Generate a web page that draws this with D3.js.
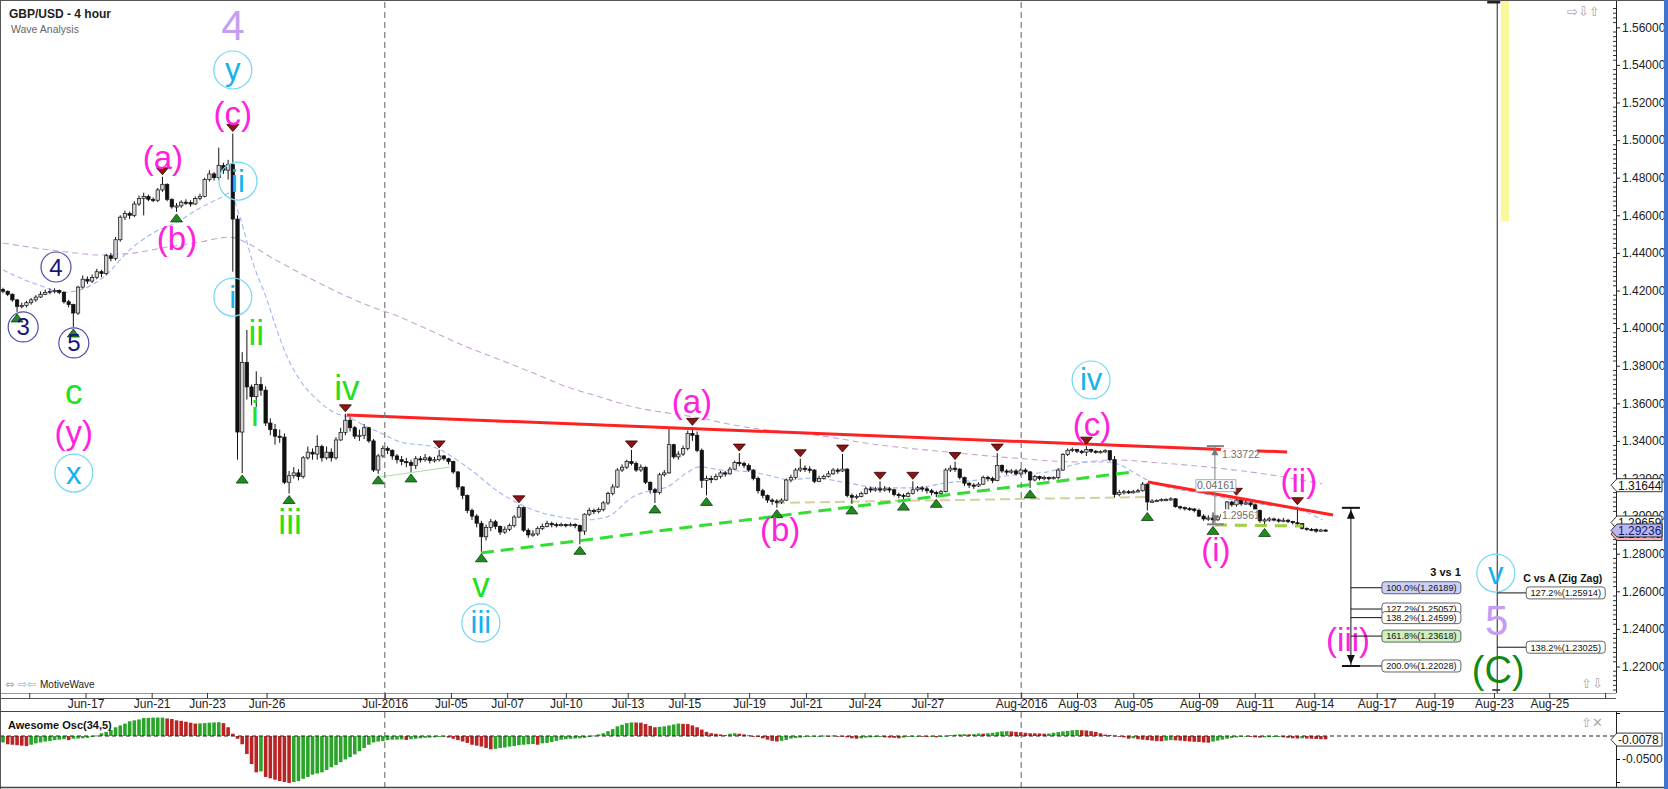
<!DOCTYPE html>
<html>
<head>
<meta charset="utf-8">
<title>GBP/USD - 4 hour</title>
<script src="https://cdn.jsdelivr.net/npm/d3@7"></script>
<style>
html,body{margin:0;padding:0;background:#fff;}
svg{display:block;font-family:"Liberation Sans",Arial,Helvetica,sans-serif;}
</style>
</head>
<body>
<svg id="chart" width="1668" height="789"></svg>
<script>
// ---------- DATA ----------
const firstOpen = 1.4205;
const closes = [
1.4196,1.4180,1.4150,1.4115,1.4120,1.4135,1.4150,1.4165,1.4180,1.4190,
1.4195,1.4200,1.4190,1.4140,1.4125,1.4080,1.4218,1.4260,1.4250,1.4270,
1.4300,1.4290,1.4385,1.4370,1.4470,1.4590,1.4610,1.4600,1.4660,1.4690,
1.4700,1.4685,1.4680,1.4735,1.4765,1.4685,1.4645,1.4650,1.4670,1.4668,
1.4660,1.4690,1.4700,1.4790,1.4820,1.4800,1.4865,1.4840,1.4870,1.4580,
1.3447,1.3818,1.3687,1.3635,1.3700,1.3670,1.3495,1.3460,1.3425,1.3420,
1.3180,1.3215,1.3230,1.3210,1.3310,1.3340,1.3330,1.3370,1.3310,1.3340,
1.3310,1.3405,1.3445,1.3510,1.3470,1.3425,1.3430,1.3470,1.3400,1.3245,
1.3320,1.3360,1.3350,1.3320,1.3300,1.3290,1.3285,1.3270,1.3305,1.3300,
1.3310,1.3295,1.3300,1.3320,1.3305,1.3290,1.3235,1.3155,1.3110,1.3030,
1.3000,1.2962,1.2890,1.2940,1.2970,1.2945,1.2915,1.2930,1.2950,1.2995,
1.3045,1.2925,1.2900,1.2905,1.2935,1.2945,1.2960,1.2955,1.2950,1.2955,
1.2950,1.2955,1.2950,1.2920,1.3010,1.3030,1.3025,1.3035,1.3070,1.3120,
1.3155,1.3245,1.3260,1.3290,1.3280,1.3245,1.3260,1.3180,1.3140,1.3125,
1.3220,1.3230,1.3380,1.3315,1.3330,1.3360,1.3440,1.3430,1.3350,1.3190,
1.3200,1.3195,1.3210,1.3230,1.3225,1.3250,1.3285,1.3280,1.3270,1.3245,
1.3200,1.3135,1.3110,1.3085,1.3080,1.3075,1.3085,1.3192,1.3205,1.3245,
1.3255,1.3250,1.3245,1.3185,1.3200,1.3210,1.3225,1.3245,1.3240,1.3250,
1.3110,1.3100,1.3105,1.3120,1.3145,1.3140,1.3145,1.3140,1.3145,1.3140,
1.3115,1.3110,1.3105,1.3120,1.3140,1.3150,1.3145,1.3135,1.3125,1.3120,
1.3130,1.3245,1.3255,1.3250,1.3205,1.3175,1.3165,1.3160,1.3170,1.3205,
1.3200,1.3190,1.3270,1.3240,1.3235,1.3240,1.3225,1.3245,1.3235,1.3192,
1.3210,1.3200,1.3205,1.3200,1.3205,1.3245,1.3327,1.3350,1.3355,1.3345,
1.3340,1.3355,1.3345,1.3340,1.3343,1.3348,1.3300,1.3115,1.3125,1.3130,
1.3128,1.3130,1.3135,1.3170,1.3075,1.3080,1.3083,1.3088,1.3088,1.3092,
1.3050,1.3045,1.3040,1.3038,1.3030,1.3000,1.2985,1.2990,1.2980,1.2995,
1.3010,1.3075,1.3060,1.3085,1.3065,1.3070,1.3060,1.3030,1.2975,1.2980,
1.2985,1.2980,1.2975,1.2978,1.2972,1.2965,1.2960,1.2935,1.2930,1.2928,
1.2920,1.2926,1.2924];
const highs = [
1.4215,1.4200,1.4185,1.4155,1.4135,1.4145,1.4160,1.4175,1.4195,1.4205,
1.4210,1.4212,1.4205,1.4195,1.4150,1.4130,1.4225,1.4280,1.4275,1.4285,
1.4315,1.4310,1.4395,1.4400,1.4485,1.4600,1.4625,1.4620,1.4675,1.4705,
1.4720,1.4710,1.4695,1.4745,1.4805,1.4770,1.4690,1.4665,1.4680,1.4685,
1.4680,1.4700,1.4715,1.4800,1.4840,1.4830,1.4960,1.4880,1.4895,1.5035,
1.4600,1.3872,1.3990,1.3700,1.3770,1.3740,1.3690,1.3520,1.3490,1.3460,
1.3440,1.3240,1.3260,1.3250,1.3320,1.3370,1.3360,1.3430,1.3380,1.3370,
1.3360,1.3420,1.3470,1.3544,1.3530,1.3480,1.3460,1.3490,1.3475,1.3410,
1.3330,1.3375,1.3370,1.3355,1.3330,1.3320,1.3310,1.3300,1.3320,1.3320,
1.3330,1.3320,1.3315,1.3352,1.3325,1.3310,1.3295,1.3240,1.3160,1.3115,
1.3040,1.3010,1.2975,1.2955,1.2985,1.2980,1.2950,1.2945,1.2960,1.3005,
1.3060,1.3050,1.2935,1.2925,1.2945,1.2960,1.2975,1.2970,1.2965,1.2965,
1.2960,1.2965,1.2962,1.2955,1.3015,1.3045,1.3040,1.3045,1.3080,1.3130,
1.3170,1.3255,1.3275,1.3300,1.3352,1.3290,1.3275,1.3265,1.3185,1.3150,
1.3230,1.3245,1.3475,1.3385,1.3345,1.3375,1.3455,1.3472,1.3450,1.3360,
1.3215,1.3215,1.3225,1.3240,1.3240,1.3262,1.3295,1.3335,1.3290,1.3280,
1.3250,1.3210,1.3145,1.3115,1.3095,1.3090,1.3095,1.3200,1.3220,1.3255,
1.3305,1.3270,1.3265,1.3250,1.3215,1.3220,1.3240,1.3255,1.3255,1.3330,
1.3255,1.3120,1.3115,1.3130,1.3155,1.3155,1.3155,1.3185,1.3160,1.3155,
1.3145,1.3125,1.3120,1.3130,1.3185,1.3160,1.3160,1.3155,1.3145,1.3135,
1.3140,1.3255,1.3270,1.3290,1.3255,1.3210,1.3180,1.3175,1.3180,1.3215,
1.3215,1.3210,1.3335,1.3275,1.3250,1.3250,1.3250,1.3255,1.3255,1.3240,
1.3220,1.3215,1.3215,1.3210,1.3212,1.3255,1.3335,1.3360,1.3365,1.3358,
1.3352,1.3372,1.3358,1.3352,1.3350,1.3356,1.3350,1.3320,1.3140,1.3140,
1.3138,1.3140,1.3145,1.3181,1.3175,1.3090,1.3090,1.3095,1.3095,1.3100,
1.3095,1.3055,1.3050,1.3048,1.3042,1.3040,1.3010,1.3005,1.3020,1.3005,
1.3020,1.3080,1.3080,1.3100,1.3090,1.3085,1.3075,1.3065,1.3035,1.2990,
1.2995,1.2992,1.2988,1.2990,1.2985,1.2975,1.3050,1.2962,1.2940,1.2936,
1.2935,1.2932,1.2930];
const lows = [
1.4185,1.4170,1.4140,1.4086,1.4105,1.4110,1.4125,1.4140,1.4160,1.4175,
1.4180,1.4185,1.4180,1.4130,1.4110,1.4006,1.4070,1.4210,1.4235,1.4240,
1.4260,1.4270,1.4280,1.4355,1.4360,1.4460,1.4575,1.4580,1.4590,1.4650,
1.4600,1.4675,1.4670,1.4670,1.4725,1.4675,1.4635,1.4618,1.4640,1.4655,
1.4645,1.4655,1.4680,1.4695,1.4780,1.4785,1.4790,1.4820,1.4790,1.4300,
1.3300,1.3229,1.3620,1.3590,1.3580,1.3640,1.3480,1.3430,1.3380,1.3390,
1.3170,1.3120,1.3200,1.3190,1.3200,1.3300,1.3300,1.3300,1.3290,1.3300,
1.3290,1.3300,1.3400,1.3430,1.3450,1.3410,1.3400,1.3410,1.3390,1.3235,
1.3225,1.3310,1.3330,1.3300,1.3280,1.3270,1.3260,1.3235,1.3250,1.3285,
1.3290,1.3280,1.3285,1.3290,1.3295,1.3275,1.3225,1.3140,1.3090,1.3015,
1.2980,1.2940,1.2810,1.2870,1.2920,1.2930,1.2900,1.2905,1.2920,1.2940,
1.2990,1.2915,1.2885,1.2890,1.2895,1.2925,1.2940,1.2940,1.2940,1.2945,
1.2940,1.2945,1.2935,1.2850,1.2900,1.3000,1.3010,1.3015,1.3025,1.3060,
1.3110,1.3150,1.3235,1.3250,1.3270,1.3235,1.3235,1.3170,1.3120,1.3070,
1.3115,1.3210,1.3225,1.3305,1.3300,1.3320,1.3350,1.3400,1.3340,1.3150,
1.3110,1.3175,1.3190,1.3200,1.3210,1.3220,1.3245,1.3265,1.3255,1.3235,
1.3190,1.3120,1.3095,1.3070,1.3060,1.3045,1.3065,1.3080,1.3180,1.3195,
1.3235,1.3235,1.3230,1.3175,1.3180,1.3195,1.3205,1.3220,1.3225,1.3235,
1.3100,1.3065,1.3090,1.3100,1.3115,1.3125,1.3130,1.3125,1.3130,1.3125,
1.3105,1.3095,1.3085,1.3100,1.3115,1.3130,1.3130,1.3120,1.3110,1.3100,
1.3110,1.3125,1.3235,1.3235,1.3195,1.3160,1.3150,1.3145,1.3155,1.3165,
1.3185,1.3175,1.3185,1.3230,1.3220,1.3225,1.3215,1.3215,1.3225,1.3150,
1.3185,1.3190,1.3190,1.3190,1.3195,1.3195,1.3240,1.3320,1.3340,1.3335,
1.3330,1.3320,1.3335,1.3332,1.3333,1.3336,1.3292,1.3100,1.3105,1.3115,
1.3118,1.3120,1.3125,1.3130,1.3030,1.3070,1.3075,1.3078,1.3080,1.3082,
1.3045,1.3035,1.3030,1.3028,1.3020,1.2995,1.2975,1.2975,1.2956,1.2975,
1.2985,1.3005,1.3050,1.3050,1.3055,1.3060,1.3050,1.3025,1.2965,1.2945,
1.2970,1.2972,1.2965,1.2968,1.2962,1.2955,1.2950,1.2928,1.2922,1.2920,
1.2912,1.2918,1.2918];

// Awesome Oscillator (34,5), thousandths
const aoValues = [
-14,-18,-19,-20,-21,-22,-19,-16,-14,-12,-11,-9,-8,-7,-9,-6,-5.5,
-5,-4,-2,1,6,9,13,19,23,27,32,34,36,39,39.5,40,40,
40,38,37,34,33,31,29,27,27.5,28,29,29.5,30,28,19,5,-6,
-18,-39,-61,-79,-77,-89,-92,-95,-98,-100,-102,-100,-98,-93,-89,-84,-81.5,
-79,-74,-68,-63,-57,-51,-46,-40,-33,-26,-19,-14,-12,-11,-9,-8,-7.8,
-7.5,-8.5,-7,-6,-5,-4,-3.5,-3,-2,-1.5,-3.5,-6,-9,-12,-15,-19,-21,
-23,-26,-29,-28,-26,-25,-23,-22,-20,-19,-18,-17.5,-19,-16,-15,-13,-10.5,
-8,-7,-6,-5.5,-5,-4,-2,1,3.5,6,10.5,15,21,24.5,28,29.5,29.3,
29,26,22,19,20,21,23,25,27,26.5,26,23,19,14,9,6,4.8,
3.5,2,5,6,5,3.5,1.5,0,-2,-5,-8,-10.5,-12,-10.5,-8.5,-5.5,-4.5,
-3.5,-2,-1.5,-1,0,0.7,0,1,0,-1,-3,-5,-6,-5,-3.5,-3,-2.5,
-2,-3,-3.5,-4,-5,-3.5,-2,-1.5,-1,-1.5,-2,-1.5,-3,-1,0.5,2,2.8,
3.5,4,3.5,4,5.5,5,6,7,8.5,10,10.5,10,9,8,7,6,5.8,
5.5,5,5.5,7,8.5,10,11,12.5,13,12.5,12,10.5,9,6,3,2,1,
0,-3,-6,-5,-7,-8,-9,-10,-11,-11.5,-10,-9,-9.5,-10,-11,-12,-12.5,
-13,-14,-14.5,-12,-10,-8,-6,-4,-3,-2,-1.5,-2,-3,-3.5,-3,-2.5,-2.2,
-2,-3,-4,-5,-5.5,-5,-5.5,-6,-6.5,-7,-7.2];

const tickBars   = [5.6,17.6,31.7,43.5,56.2,81.4,95.5,107.5,120.0,133.2,145.3,159.1,171.2,183.7,197.1,217.1,229.0,241.0,255.0,266.9,279.6,292.9,305.2,317.9,329.7,341.6];
const tickLabels = ["","Jun-17","Jun-21","Jun-23","Jun-26","Jul-2016","Jul-05","Jul-07","Jul-10","Jul-13","Jul-15","Jul-19","Jul-21","Jul-24","Jul-27","Aug-2016","Aug-03","Aug-05","Aug-09","Aug-11","Aug-14","Aug-17","Aug-19","Aug-23","Aug-25",""];
const monthBars  = [81.4, 217.1];
const priceTicks = [1.22,1.24,1.26,1.28,1.30,1.32,1.34,1.36,1.38,1.40,1.42,1.44,1.46,1.48,1.50,1.52,1.54,1.56];
const oscTicks   = [0.05,0,-0.05,-0.1];

const maFast = [[0,1.4309],[6.4,1.4240],[13.6,1.4192],[20.7,1.4256],[27.7,1.4431],[32.0,1.4506],[37.1,1.4564],[42.0,1.4639],[46.3,1.4692],[48.4,1.4718],[50.5,1.4591],[53.3,1.4346],[56.3,1.4150],[58.4,1.3990],[60.6,1.3847],[63.3,1.3724],[67.0,1.3618],[70.4,1.3554],[74.0,1.3522],[77.6,1.3474],[81.0,1.3437],[84.6,1.3395],[91.7,1.3368],[98.9,1.3262],[106.0,1.3123],[113.0,1.3033],[120.3,1.2990],[124.5,1.2980],[128.8,1.2996],[134.3,1.3102],[138.6,1.3139],[141.6,1.3155],[145.8,1.3230],[148.6,1.3262],[152.9,1.3246],[159.3,1.3235],[162.9,1.3219],[167.8,1.3193],[172.7,1.3203],[180.0,1.3177],[187.0,1.3150],[194.0,1.3150],[201.3,1.3177],[208.3,1.3193],[215.4,1.3219],[222.6,1.3235],[228.1,1.3272],[231.8,1.3288],[235.4,1.3288],[238.2,1.3272],[240.9,1.3235],[243.9,1.3193],[248.2,1.3155],[255.2,1.3123],[262.3,1.3086],[269.5,1.3059],[276.5,1.3033],[281.3,1.2980]];
const maSlow = [[0,1.4452],[13.6,1.4405],[20.7,1.4389],[27.7,1.4399],[35.0,1.4431],[42.0,1.4458],[48.4,1.4484],[52.0,1.4453],[56.3,1.4389],[63.3,1.4293],[70.4,1.4203],[77.6,1.4123],[84.6,1.4059],[91.7,1.3980],[98.9,1.3900],[106.0,1.3831],[113.0,1.3762],[120.3,1.3687],[127.3,1.3634],[134.3,1.3581],[141.6,1.3549],[148.6,1.3522],[155.7,1.3485],[162.9,1.3458],[169.9,1.3442],[187.0,1.3378],[201.3,1.3341],[215.4,1.3309],[229.6,1.3288],[236.7,1.3299],[246.7,1.3283],[262.3,1.3246],[272.9,1.3209],[281.3,1.3171]];

const trendLines = [
  {a:[80.4,1.3208], b:[95.3,1.3261], color:"#a8dca8", w:1,   dash:null},
  {a:[164.6,1.3070],b:[244.6,1.3102],color:"#d6cfa0", w:2,   dash:"10,5"},
  {a:[101.9,1.2804],b:[240.9,1.3235],color:"#33dd33", w:3,   dash:"13,7"},
  {a:[258.4,1.2953],b:[277.2,1.2947],color:"#9fd040", w:3,   dash:"12,8"},
  {a:[73.3,1.3538], b:[273.8,1.3341],color:"#ff2222", w:3,   dash:null},
  {a:[244.1,1.3181],b:[283.6,1.3006],color:"#ff2222", w:3,   dash:null}
];

const peakBars   = [34,49,73,93,110,134,147,157,170,179,187,194,203,212,231,263,276];
const troughBars = [3,15,37,51,61,80,87,102,123,139,150,165,181,192,199,219,244,258,269];

const waveLabels = [
["4",49.0,1.5607,"lil"],["y",49.0,1.5373,"cyc"],["(c)",49.0,1.5139,"mag"],
["(a)",34.1,1.4910,"mag"],["ii",50.1,1.4782,"cyc"],["(b)",37.1,1.4479,"mag"],
["i",49.0,1.4165,"cyc"],["4",11.3,1.4325,"nav"],["3",4.3,1.4006,"nav"],
["5",15.1,1.3921,"nav"],["c",15.1,1.3661,"grn"],["(y)",15.1,1.3447,"mag"],
["x",15.1,1.3229,"cyc"],["ii",54.0,1.3974,"grn"],["i",53.7,1.3548,"grn"],
["iii",61.2,1.2969,"grn"],["iv",73.3,1.3682,"grn"],["v",101.9,1.2634,"grn"],
["iii",101.9,1.2432,"cyc"],["(a)",146.9,1.3608,"mag"],["(b)",165.7,1.2927,"mag"],
["iv",232.0,1.3724,"cyc"],["(c)",232.2,1.3485,"mag"],["(i)",258.6,1.2820,"mag"],
["(ii)",276.3,1.3192,"mag"],["(iii)",286.8,1.2342,"mag"],["v",318.3,1.2697,"cyc"],
["5",318.5,1.2447,"lil"],["(C)",318.8,1.2181,"dgr"]];

const measBar = 258.4, measHigh = 1.33722, measLow = 1.29561;
const fib1Bar = 287.4, fib1Top = 1.3044;
const fib1Levels = [1.26189,1.25057,1.24599,1.23618,1.22028];
const fib1Names  = ["100.0%","127.2%","138.2%","161.8%","200.0%"];
const fib1Fills  = ["#c9d1fb","#ffffff","#ffffff","#cdf1c3","#ffffff"];
const fib2Bar = 318.6;
const fib2Levels = [1.25914,1.23025];
const fib2Names  = ["127.2%","138.2%"];
const yellowBar = [319.4, 321.1, 1.4568];
const currentLabels = [[1.31644,"#ffffff","#111"],[1.29659,"#ffffff","#111"],[1.29046,"#f3b2ae","#111"],[1.29236,"#b9b9f2","#14146a"]];
const aoCurrent = -0.0078;

// ---------- LAYOUT ----------
const svg = d3.select("#chart");
const PR = 1616, PB = 693, OT = 712, OB = 788;
const x  = d3.scaleLinear().domain([0, 341.6]).range([3, 1605.1]);
const y  = d3.scaleLinear().domain([1.22, 1.56]).range([666.5, 27.3]);
const yo = d3.scaleLinear().domain([-0.1, 0.05]).range([782, 713]);

const defs = svg.append("defs");
defs.append("clipPath").attr("id","pc").append("rect").attr("x",1).attr("y",1).attr("width",PR-1).attr("height",PB-1);
defs.append("clipPath").attr("id","oc").append("rect").attr("x",1).attr("y",OT+1).attr("width",PR-1).attr("height",OB-OT-1);

svg.append("rect").attr("width",1668).attr("height",789).attr("fill","#fff");

const P = svg.append("g").attr("clip-path","url(#pc)");

// yellow box
P.append("rect").attr("x",x(yellowBar[0])).attr("width",x(yellowBar[1])-x(yellowBar[0]))
 .attr("y",0).attr("height",y(yellowBar[2])).attr("fill","#f9f99c");

// month separators
svg.append("g").selectAll("line").data(monthBars).join("line")
 .attr("x1",d=>x(d)).attr("x2",d=>x(d)).attr("y1",2).attr("y2",OB)
 .attr("stroke","#7a7a7a").attr("stroke-width",1.2).attr("stroke-dasharray","6,4");

// moving averages
const maLine = d3.line().x(d=>x(d[0])).y(d=>y(d[1])).curve(d3.curveMonotoneX);
P.append("path").attr("d",maLine(maSlow)).attr("fill","none").attr("stroke","#c9a2d4").attr("stroke-width",1.1).attr("stroke-dasharray","6,4");
P.append("path").attr("d",maLine(maFast)).attr("fill","none").attr("stroke","#9fb6f2").attr("stroke-width",1.1).attr("stroke-dasharray","5,3");

// thin/tan lines first
const tl = d => d3.line().x(p=>x(p[0])).y(p=>y(p[1]))([d.a,d.b]);
P.append("g").selectAll("path").data(trendLines.slice(0,2)).join("path")
 .attr("d",tl).attr("fill","none").attr("stroke",d=>d.color).attr("stroke-width",d=>d.w)
 .attr("stroke-dasharray",d=>d.dash);

// candles
const bars = closes.map((c,i)=>({i, o: i ? closes[i-1] : firstOpen, c, h: highs[i], l: lows[i]}));
const CG = P.append("g");
CG.selectAll("line").data(bars).join("line")
 .attr("x1",d=>x(d.i)).attr("x2",d=>x(d.i))
 .attr("y1",d=>y(Math.max(d.h,d.o,d.c))).attr("y2",d=>y(Math.min(d.l,d.o,d.c)))
 .attr("stroke","#111").attr("stroke-width",1);
CG.selectAll("rect").data(bars).join("rect")
 .attr("x",d=>x(d.i)-1.7).attr("width",3.4)
 .attr("y",d=>y(Math.max(d.o,d.c)))
 .attr("height",d=>Math.max(1.2, y(Math.min(d.o,d.c))-y(Math.max(d.o,d.c))))
 .attr("fill",d=>d.c>=d.o?"#d2d2d2":"#111").attr("stroke","#111").attr("stroke-width",0.7);

// trend lines
P.append("g").selectAll("path").data(trendLines.slice(2)).join("path")
 .attr("d",tl).attr("fill","none").attr("stroke",d=>d.color).attr("stroke-width",d=>d.w)
 .attr("stroke-dasharray",d=>d.dash);

// swing markers
P.append("g").selectAll("path").data(peakBars).join("path")
 .attr("d",b=>{const cx=x(b), ay=y(highs[b])-2; return `M${cx-6},${ay-7}L${cx+6},${ay-7}L${cx},${ay}Z`;})
 .attr("fill","#8c1414").attr("stroke","#3a0000").attr("stroke-width",0.8);
P.append("g").selectAll("path").data(troughBars).join("path")
 .attr("d",b=>{const cx=x(b), ay=y(lows[b])+2; return `M${cx-6},${ay+8}L${cx+6},${ay+8}L${cx},${ay}Z`;})
 .attr("fill","#1f8c1f").attr("stroke","#0b3d0b").attr("stroke-width",0.8);

// measurement tool
const mx = x(measBar), mHy = y(measHigh), mLy = y(measLow);
const M = P.append("g");
M.append("line").attr("x1",mx).attr("x2",mx).attr("y1",mHy).attr("y2",mLy).attr("stroke","#808080").attr("stroke-width",1);
M.append("line").attr("x1",mx-8).attr("x2",mx+9).attr("y1",mHy).attr("y2",mHy).attr("stroke","#808080").attr("stroke-width",2);
M.append("line").attr("x1",mx-8).attr("x2",mx+9).attr("y1",mLy).attr("y2",mLy).attr("stroke","#808080").attr("stroke-width",2);
M.append("path").attr("d",`M${mx-3.5},${mHy+9}L${mx+3.5},${mHy+9}L${mx},${mHy+2}Z`).attr("fill","#777");
M.append("path").attr("d",`M${mx-3.5},${mLy-9}L${mx+3.5},${mLy-9}L${mx},${mLy-2}Z`).attr("fill","#777");
[[measHigh, mHy+8],[measLow, mLy-9]].forEach(([v,yy])=>{
  M.append("rect").attr("x",mx+6).attr("y",yy-6).attr("width",36).attr("height",12).attr("fill","#fff");
  M.append("text").attr("x",mx+7).attr("y",yy).attr("dy","0.35em").attr("font-size",10.5).attr("fill","#707070").text(v.toFixed(5));
});
M.append("rect").attr("x",mx-19).attr("y",(mHy+mLy)/2-5.5).attr("width",40).attr("height",12).attr("fill","#fff").attr("stroke","#999").attr("stroke-width",0.8);
M.append("text").attr("x",mx+1).attr("y",(mHy+mLy)/2+0.5).attr("dy","0.35em").attr("text-anchor","middle").attr("font-size",10.5).attr("fill","#666").text((measHigh-measLow).toFixed(5));

// C vs A projection line
const f2x = x(fib2Bar);
P.append("line").attr("x1",f2x).attr("x2",f2x).attr("y1",0).attr("y2",PB).attr("stroke","#222").attr("stroke-width",1);
P.append("line").attr("x1",f2x-10).attr("x2",f2x+3).attr("y1",2).attr("y2",2).attr("stroke","#222").attr("stroke-width",3);
P.append("line").attr("x1",f2x-5).attr("x2",f2x+3).attr("y1",PB-3).attr("y2",PB-3).attr("stroke","#222").attr("stroke-width",1.5);

// wave labels
const styles = {
  mag:{fill:"#ff22dd", size:33},
  grn:{fill:"#22e022", size:35},
  cyc:{fill:"#16b2ec", size:31, r:19, stroke:"#73d8f3"},
  nav:{fill:"#16167a", size:24, r:15, stroke:"#4e4ea8"},
  lil:{fill:"#c69df5", size:42},
  dgr:{fill:"#118a14", size:38}
};
const L = svg.append("g").attr("clip-path","url(#pc)");
L.selectAll("circle").data(waveLabels.filter(d=>styles[d[3]].r)).join("circle")
 .attr("cx",d=>x(d[1])).attr("cy",d=>y(d[2])).attr("r",d=>styles[d[3]].r)
 .attr("fill","none").attr("stroke",d=>styles[d[3]].stroke).attr("stroke-width",1.2);
L.selectAll("text").data(waveLabels).join("text")
 .attr("x",d=>x(d[1])).attr("y",d=>y(d[2])).attr("text-anchor","middle").attr("dominant-baseline","central")
 .attr("font-size",d=>styles[d[3]].size).attr("fill",d=>styles[d[3]].fill).text(d=>d[0]);

// fib tool (3 vs 1)
const F = svg.append("g");
const f1x = x(fib1Bar), fTop = y(fib1Top), fBot = y(fib1Levels[fib1Levels.length-1]);
F.append("line").attr("x1",f1x).attr("x2",f1x).attr("y1",fTop).attr("y2",fBot).attr("stroke","#111");
F.append("line").attr("x1",f1x-9).attr("x2",f1x+9).attr("y1",fTop).attr("y2",fTop).attr("stroke","#111").attr("stroke-width",2);
F.append("line").attr("x1",f1x-9).attr("x2",f1x+9).attr("y1",fBot).attr("y2",fBot).attr("stroke","#111").attr("stroke-width",2);
F.append("path").attr("d",`M${f1x-4},${fTop+11}L${f1x+4},${fTop+11}L${f1x},${fTop+2}Z`).attr("fill","#111");
F.append("path").attr("d",`M${f1x-4},${fBot-11}L${f1x+4},${fBot-11}L${f1x},${fBot-2}Z`).attr("fill","#111");
const boxW = 79, boxH = 12;
function fibBox(g, lx, bx, v, name, fill){
  const yy = y(v);
  g.append("line").attr("x1",lx).attr("x2",bx).attr("y1",yy).attr("y2",yy).attr("stroke","#111");
  g.append("rect").attr("x",bx).attr("y",yy-boxH/2).attr("width",boxW).attr("height",boxH).attr("rx",3)
   .attr("fill",fill).attr("stroke","#555").attr("stroke-width",0.9);
  g.append("text").attr("x",bx+boxW/2).attr("y",yy).attr("dy","0.36em").attr("text-anchor","middle")
   .attr("font-size",9.2).attr("fill","#111").text(`${name}(${v.toFixed(5)})`);
}
fib1Levels.forEach((v,i)=>fibBox(F, f1x, f1x+31, v, fib1Names[i], fib1Fills[i]));
F.append("text").attr("x",f1x+110).attr("y",y(fib1Levels[0])-12).attr("text-anchor","end")
 .attr("font-size",11).attr("font-weight","bold").attr("fill","#111").text("3 vs 1");
fib2Levels.forEach((v,i)=>fibBox(F, f2x, f2x+29, v, fib2Names[i], "#ffffff"));
F.append("text").attr("x",f2x+26).attr("y",y(fib2Levels[0])-11).attr("font-size",10.5)
 .attr("font-weight","bold").attr("fill","#111").text("C vs A (Zig Zag)");

// ---------- AXES & FRAME ----------
const axG = svg.append("g").attr("transform",`translate(${PR},0)`)
 .call(d3.axisRight(y).tickValues(priceTicks).tickFormat(d3.format(".5f")).tickSize(4).tickPadding(2).tickSizeOuter(0));
axG.select(".domain").attr("d",`M0.5,0V${PB}`).attr("stroke","#222");
axG.selectAll("text").attr("font-size",12).attr("fill","#222").attr("font-family","Liberation Sans, Arial");
axG.selectAll(".tick line").attr("stroke","#222");
const minor = d3.range(1.2075, 1.5725, 0.0025).filter(v=>!priceTicks.some(t=>Math.abs(t-v)<1e-6));
svg.append("g").attr("transform",`translate(${PR},0)`).selectAll("line").data(minor).join("line")
 .attr("x1",-3).attr("x2",0).attr("y1",d=>y(d)).attr("y2",d=>y(d)).attr("stroke","#333");

// current price labels
function tag(yy, txt, fill, color){
  const g = svg.append("g");
  g.append("path").attr("d",`M${PR-5},${yy}L${PR+1},${yy-6.5}H${PR+46}V${yy+6.5}H${PR+1}Z`)
   .attr("fill",fill).attr("stroke","#222").attr("stroke-width",0.9);
  g.append("text").attr("x",PR+2).attr("y",yy).attr("dy","0.36em").attr("font-size",12).attr("fill",color).text(txt);
}
currentLabels.forEach(d=>tag(y(d[0]), d[0].toFixed(5), d[1], d[2]));

// date axis
const dx = svg.append("g").attr("transform",`translate(0,${PB})`)
 .call(d3.axisBottom(x).tickValues(tickBars).tickFormat((d,i)=>tickLabels[i]).tickSize(5).tickPadding(1).tickSizeOuter(0));
dx.select(".domain").attr("d",`M0,0.5H${PR}`).attr("stroke","#9a9a9a");
dx.selectAll("text").attr("font-size",12).attr("fill","#222").attr("font-family","Liberation Sans, Arial");
dx.selectAll(".tick line").attr("stroke","#333");
svg.append("line").attr("x1",0).attr("x2",PR).attr("y1",698.5).attr("y2",698.5).attr("stroke","#555");

// oscillator
const O = svg.append("g").attr("clip-path","url(#oc)");
let col = "#2aa52a";
const aoBars = aoValues.map((v,i)=>{
  if(i>0){ if(v>aoValues[i-1]) col="#2aa52a"; else if(v<aoValues[i-1]) col="#bb2424"; }
  return {i, v:v/1000, col};
});
O.selectAll("rect").data(aoBars).join("rect")
 .attr("x",d=>x(d.i)-1.8).attr("width",3.6)
 .attr("y",d=>Math.min(yo(0),yo(d.v))).attr("height",d=>Math.max(0.8,Math.abs(yo(d.v)-yo(0))))
 .attr("fill",d=>d.col);
O.append("line").attr("x1",0).attr("x2",PR).attr("y1",yo(0)).attr("y2",yo(0))
 .attr("stroke","#222").attr("stroke-dasharray","4,3");
svg.append("text").attr("x",8).attr("y",729).attr("font-size",11).attr("font-weight","bold").attr("fill","#111").text("Awesome Osc(34,5)");
const ao = svg.append("g").attr("transform",`translate(${PR},0)`)
 .call(d3.axisRight(yo).tickValues(oscTicks).tickFormat(d=>d===-0.05?"-0.0500":"").tickSize(4).tickPadding(2).tickSizeOuter(0));
ao.select(".domain").attr("d",`M0.5,${OT}V${OB}`).attr("stroke","#222");
ao.selectAll("text").attr("font-size",12).attr("fill","#222").attr("font-family","Liberation Sans, Arial");
tag(yo(aoCurrent), aoCurrent.toFixed(4), "#ffffff", "#111");

// frame lines
svg.append("line").attr("x1",0).attr("x2",1668).attr("y1",0.5).attr("y2",0.5).attr("stroke","#555");
svg.append("line").attr("x1",0.5).attr("x2",0.5).attr("y1",0).attr("y2",789).attr("stroke","#555");
svg.append("line").attr("x1",0).attr("x2",1668).attr("y1",711.5).attr("y2",711.5).attr("stroke","#444").attr("stroke-width",1.2);
svg.append("line").attr("x1",0).attr("x2",1668).attr("y1",787.5).attr("y2",787.5).attr("stroke","#444").attr("stroke-width",1.5);
svg.append("rect").attr("x",1664).attr("y",0).attr("width",4).attr("height",789).attr("fill","#3f73cc");

// header & icons
svg.append("text").attr("x",9).attr("y",18).attr("font-size",12).attr("font-weight","bold").attr("fill","#222").text("GBP/USD - 4 hour");
svg.append("text").attr("x",11).attr("y",33).attr("font-size",10.5).attr("fill","#666").text("Wave Analysis");
const icon = (xx,yy,t,s)=>svg.append("text").attr("x",xx).attr("y",yy).attr("font-family","DejaVu Sans").attr("font-size",s||13).attr("fill","#a8a8a8").text(t);
icon(1567,16,"⇨⇩⇧");
icon(1581,688,"⇧⇩");
icon(1581,727,"⇧✕");
icon(5,688,"⇔ ⇨⇦",11);
svg.append("text").attr("x",40).attr("y",688).attr("font-size",10).attr("fill","#222").text("MotiveWave");
</script>
</body>
</html>
